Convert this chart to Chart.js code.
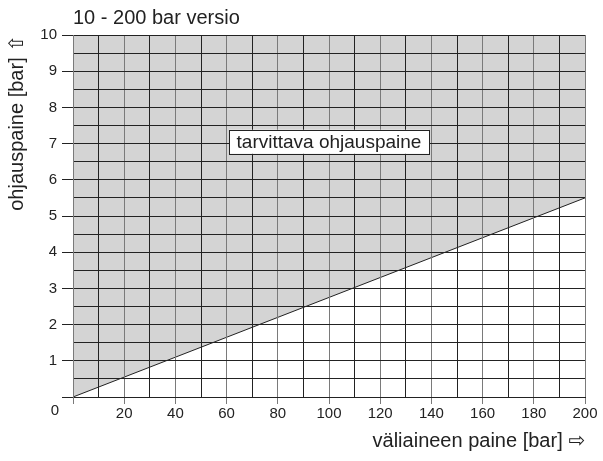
<!DOCTYPE html>
<html>
<head>
<meta charset="utf-8">
<script src="https://cdn.jsdelivr.net/npm/chart.js@4"></script>
<style>
  html, body { margin: 0; padding: 0; background: #fff; }
  #wrap { width: 603px; height: 461px; }
</style>
</head>
<body>
<div id="wrap"><canvas id="chart" width="603" height="461"></canvas></div>
<script>
// rajakäyrä: väliaineen paine -> tarvittava ohjauspaine
const mediumPressure = [0, 200];
const controlPressure = [0, 5.5];
const xTicksShown = [20, 40, 60, 80, 100, 120, 140, 160, 180, 200];
const yTicksShown = [1, 2, 3, 4, 5, 6, 7, 8, 9, 10];
const areaLabel = { x: 100, y: 7.05, text: 'tarvittava ohjauspaine' };

const FONT = '"Liberation Sans", Arial, "DejaVu Sans", sans-serif';
const TEXT = '#222';

// kulman "0" ja alueen tekstilaatikko
const extrasPlugin = {
    id: 'extras',
    afterDraw(chart) {
        const { ctx, scales } = chart;
        const x = scales.x, y = scales.y;
        ctx.save();
        ctx.fillStyle = TEXT;
        ctx.font = '15px ' + FONT;
        ctx.textAlign = 'center';
        ctx.textBaseline = 'middle';
        ctx.fillText('0', x.left - 18, y.bottom + 14);

        ctx.font = '19px ' + FONT;
        const px = x.getPixelForValue(areaLabel.x);
        const py = y.getPixelForValue(areaLabel.y);
        const w = 200, h = 24;
        ctx.fillStyle = '#fff';
        ctx.fillRect(px - w / 2, py - h / 2, w, h);
        ctx.strokeStyle = '#222';
        ctx.lineWidth = 1;
        ctx.strokeRect(Math.round(px - w / 2) + 0.5, Math.round(py - h / 2) + 0.5, w, h);
        ctx.fillStyle = TEXT;
        ctx.fillText(areaLabel.text, px, py + 1);
        ctx.restore();
    }
};

new Chart(document.getElementById('chart'), {
    type: 'line',
    data: {
        datasets: [{
            data: mediumPressure.map((v, i) => ({ x: v, y: controlPressure[i] })),
            borderColor: '#222',
            borderWidth: 1,
            pointRadius: 0,
            fill: 'end',
            backgroundColor: '#d4d4d4',
            tension: 0
        }]
    },
    options: {
        responsive: false,
        animation: false,
        layout: { padding: { top: 0, right: 18, left: 0, bottom: 0 } },
        plugins: {
            legend: { display: false },
            tooltip: { enabled: false },
            title: {
                display: true,
                text: '10 - 200 bar versio',
                align: 'start',
                fullSize: false,
                color: TEXT,
                font: { family: FONT, size: 20, weight: 'normal' },
                padding: { top: 6, bottom: 5 }
            }
        },
        scales: {
            x: {
                type: 'linear',
                min: 0,
                max: 200,
                afterFit(s) { s.height = 64; },
                border: { display: true, color: '#222', width: 1, z: 2 },
                grid: {
                    z: 1,
                    drawOnChartArea: true,
                    color: c => (c.tick.value % 20 === 0 ? '#7a7a7a' : '#222'),
                    tickColor: c => (c.tick.value % 20 === 0 ? '#7a7a7a' : 'rgba(0,0,0,0)'),
                    tickLength: 7
                },
                ticks: {
                    stepSize: 10,
                    autoSkip: false,
                    maxRotation: 0,
                    padding: 1,
                    color: TEXT,
                    font: { family: FONT, size: 15 },
                    callback: v => (xTicksShown.includes(v) ? String(v) : '')
                },
                title: {
                    display: true,
                    text: 'väliaineen paine [bar] ⇨',
                    align: 'end',
                    color: TEXT,
                    font: { family: FONT, size: 20 },
                    padding: { top: 4, bottom: 8 }
                }
            },
            y: {
                type: 'linear',
                min: 0,
                max: 10,
                afterFit(s) { s.width = 73; },
                border: { display: true, color: '#7a7a7a', width: 1, z: 2 },
                grid: {
                    z: 1,
                    color: '#222',
                    tickColor: c => (Number.isInteger(c.tick.value) ? '#222' : 'rgba(0,0,0,0)'),
                    tickLength: 11
                },
                ticks: {
                    stepSize: 0.5,
                    autoSkip: false,
                    padding: 5,
                    color: TEXT,
                    font: { family: FONT, size: 15 },
                    callback: v => (yTicksShown.includes(v) ? String(v) : '')
                },
                title: {
                    display: true,
                    text: 'ohjauspaine [bar] ⇧',
                    align: 'end',
                    color: TEXT,
                    font: { family: FONT, size: 20 },
                    padding: { top: 5, bottom: 0 }
                }
            }
        }
    },
    plugins: [extrasPlugin]
});
</script>
</body>
</html>
